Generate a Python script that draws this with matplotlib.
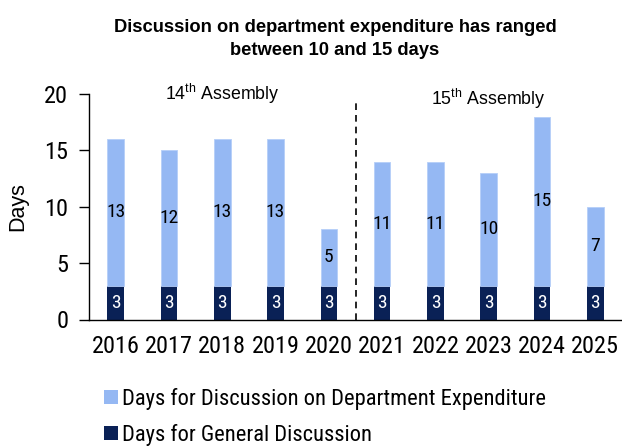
import matplotlib
matplotlib.use("Agg")
import matplotlib.pyplot as plt
from matplotlib.patches import Patch
from matplotlib import font_manager as fm

years = ["2016", "2017", "2018", "2019", "2020", "2021", "2022", "2023", "2024", "2025"]
general = [3, 3, 3, 3, 3, 3, 3, 3, 3, 3]
department = [13, 12, 13, 13, 5, 11, 11, 10, 15, 7]

names = {f.name for f in fm.fontManager.ttflist}
narrow = None
for cand in ["Liberation Sans Narrow", "Arial Narrow", "Roboto Condensed", "Open Sans Condensed"]:
    if cand in names:
        narrow = cand
        break
REG = ["Liberation Sans", "DejaVu Sans"]
if narrow:
    NAR = [narrow] + REG
    k = 1.0
else:
    NAR = REG
    k = 0.85

plt.rcParams["font.family"] = NAR
plt.rcParams["mathtext.fontset"] = "custom"
plt.rcParams["mathtext.rm"] = "Liberation Sans"

LIGHT = "#95B8F3"
DARK = "#0A2156"

fig = plt.figure(figsize=(6.22, 4.47), dpi=100)
ax = fig.add_axes([89 / 622, 127.5 / 447, 533 / 622, 225.5 / 447])

x = list(range(len(years)))
w = 0.31
ax.bar(x, general, width=w, color=DARK, zorder=2)
ax.bar(x, department, width=w, bottom=general, color=LIGHT, edgecolor="#B5CEF8", linewidth=0.6, zorder=2)

for i in x:
    ax.text(i, general[i] / 2, str(general[i]), ha="center", va="center", color="white", fontsize=14 * k)
    ax.text(i, general[i] + department[i] / 2, str(department[i]), ha="center", va="center", color="black",
            fontsize=14 * k)

ax.plot([4.5, 4.5], [0, 19.3], color="black", linestyle=(0, (4, 3)), linewidth=1.2, zorder=3)
ax.text(2, 20.0, "14$^{\\mathrm{th}}$ Assembly", ha="center", va="center", fontsize=12.8, family=REG)
ax.text(7, 19.55, "15$^{\\mathrm{th}}$ Assembly", ha="center", va="center", fontsize=12.8, family=REG)

ax.set_xlim(-0.5, 9.5)
ax.set_ylim(0, 20)
ax.set_yticks([0, 5, 10, 15, 20])
ax.set_xticks(x)
ax.set_xticklabels(years)
ax.tick_params(axis="x", length=0, pad=11, labelsize=17.5 * k)
ax.tick_params(axis="y", length=7, width=1, pad=8, labelsize=17.5 * k, direction="out")
for s in ["top", "right"]:
    ax.spines[s].set_visible(False)
ax.spines["left"].set_linewidth(1)
ax.spines["bottom"].set_linewidth(1)
ax.set_ylabel("Days", fontsize=15.5, family=REG)
ax.yaxis.set_label_coords((18 - 89) / 533, 0.5)
ax.yaxis.label.set_va("center")

fig.text(335 / 622, 1 - 39.4 / 447, "Discussion on department expenditure has ranged\nbetween 10 and 15 days",
         ha="center", va="center", fontsize=13.2, fontweight="bold", linespacing=1.45, family=REG)

handles = [Patch(facecolor=LIGHT, edgecolor="none"), Patch(facecolor=DARK, edgecolor="none")]
labels = ["Days for Discussion on Department Expenditure", "Days for General Discussion"]
fig.legend(handles, labels, loc="center left", bbox_to_anchor=(104.3 / 622, 1 - 417 / 447), frameon=False,
           fontsize=16.2 * k, handlelength=0.6, handleheight=0.6, handletextpad=0.2, labelspacing=0.64,
           borderaxespad=0, borderpad=0)

fig.savefig("out.png", dpi=100)
